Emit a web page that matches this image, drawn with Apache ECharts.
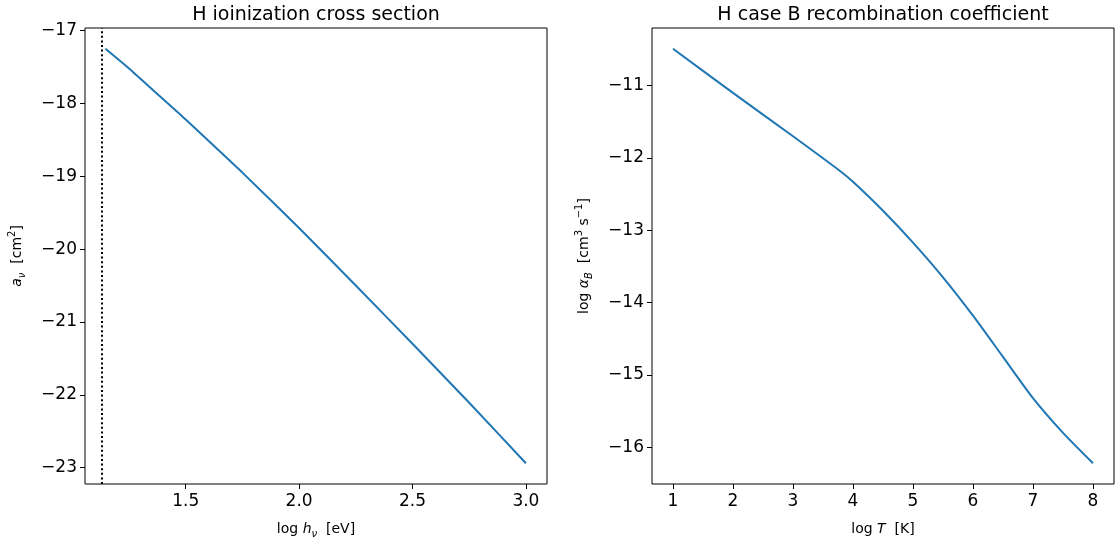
<!DOCTYPE html>
<html>
<head>
<meta charset="utf-8">
<script src="https://cdn.jsdelivr.net/npm/echarts@6/dist/echarts.min.js"></script>
<style>
    html, body { margin: 0; padding: 0; background: #fff; }
    #chart { width: 1120px; height: 548px; }
</style>
</head>
<body>
<div id="chart"></div>
<script>
// Panel izquierdo: sección eficaz de fotoionización del H
const logEnergy = [1.146, 1.25, 1.375, 1.5, 1.75, 2.0, 2.25, 2.5, 2.75, 3.0];
const logCrossSection = [-17.25, -17.52, -17.87, -18.22, -18.95, -19.71, -20.50, -21.30, -22.11, -22.94];
const thresholdLogE = 1.1335; // 13.6 eV
const energyTicks = [1.5, 2.0, 2.5, 3.0];
const crossTicks = [-23, -22, -21, -20, -19, -18, -17];

// Panel derecho: coeficiente de recombinación caso B
const logTemp = [1, 2, 3, 3.8, 4, 4.5, 5, 5.5, 6, 6.5, 7, 7.5, 8];
const logAlphaB = [-10.49, -11.10, -11.70, -12.19, -12.33, -12.73, -13.17, -13.65, -14.18, -14.75, -15.32, -15.80, -16.22];
const tempTicks = [1, 2, 3, 4, 5, 6, 7, 8];
const alphaTicks = [-16, -15, -14, -13, -12, -11];

const font = 'DejaVu Sans';
const lineColor = '#1f77b4';

// Etiquetas con signo menos tipográfico
function minusLabel(v) {
    return (v < 0 ? '\u2212' : '') + Math.abs(v);
}

const nameRich = {
    n: { fontFamily: font, fontSize: 14, color: '#000', lineHeight: 20 },
    i: { fontFamily: font, fontSize: 14, fontStyle: 'italic', color: '#000', lineHeight: 20 },
    isub: { fontFamily: font, fontSize: 10, fontStyle: 'italic', color: '#000', lineHeight: 20, verticalAlign: 'bottom' },
    sup: { fontFamily: font, fontSize: 10, color: '#000', lineHeight: 20, verticalAlign: 'top' }
};

function xAxisCfg(gridIndex, min, max, ticks, name, fmt) {
    return {
        type: 'value',
        gridIndex: gridIndex,
        min: min,
        max: max,
        name: name,
        nameLocation: 'middle',
        nameGap: 35,
        nameTextStyle: { rich: nameRich },
        axisLine: { show: false },
        axisTick: { show: true, length: 5, customValues: ticks, lineStyle: { color: '#000', width: 1 } },
        axisLabel: { customValues: ticks, color: '#000', fontFamily: font, fontSize: 17, margin: 9, formatter: fmt },
        splitLine: { show: false }
    };
}

function yAxisCfg(gridIndex, min, max, ticks, name) {
    return {
        type: 'value',
        gridIndex: gridIndex,
        min: min,
        max: max,
        name: name,
        nameLocation: 'middle',
        nameGap: 58,
        nameTextStyle: { rich: nameRich },
        axisLine: { show: false },
        axisTick: { show: true, length: 5, customValues: ticks, lineStyle: { color: '#000', width: 1 } },
        axisLabel: { customValues: ticks, color: '#000', fontFamily: font, fontSize: 17, margin: 8, formatter: minusLabel },
        splitLine: { show: false }
    };
}

const myChart = echarts.init(document.getElementById('chart'), null, { renderer: 'canvas' });

const option = {
    backgroundColor: '#fff',
    animation: false,
    title: [
        {
            text: 'H ioinization cross section',
            left: 316, top: 6, textAlign: 'center', padding: 0,
            textStyle: { fontFamily: font, fontSize: 19, fontWeight: 'normal', color: '#000' }
        },
        {
            text: 'H case B recombination coefficient',
            left: 883, top: 6, textAlign: 'center', padding: 0,
            textStyle: { fontFamily: font, fontSize: 19, fontWeight: 'normal', color: '#000' }
        }
    ],
    grid: [
        { left: 85, top: 28, width: 462, height: 456, show: true, borderColor: '#000', borderWidth: 1, backgroundColor: 'transparent' },
        { left: 652, top: 28, width: 462, height: 456, show: true, borderColor: '#000', borderWidth: 1, backgroundColor: 'transparent' }
    ],
    xAxis: [
        xAxisCfg(0, 1.056, 3.093, energyTicks, '{n|log }{i|h}{isub|ν}{n|  [eV]}', v => v.toFixed(1)),
        xAxisCfg(1, 0.65, 8.35, tempTicks, '{n|log }{i|T}{n|  [K]}', v => String(v))
    ],
    yAxis: [
        yAxisCfg(0, -23.225, -16.965, crossTicks, '{i|a}{isub|ν}{n|  [cm}{sup|2}{n|]}'),
        yAxisCfg(1, -16.507, -10.203, alphaTicks, '{n|log }{i|α}{isub|B}{n|  [cm}{sup|3}{n| s}{sup|\u22121}{n|]}')
    ],
    series: [
        {
            type: 'line',
            xAxisIndex: 0,
            yAxisIndex: 0,
            data: logEnergy.map((x, i) => [x, logCrossSection[i]]),
            smooth: 0.2,
            symbol: 'none',
            lineStyle: { color: lineColor, width: 2 },
            markLine: {
                silent: true,
                symbol: ['none', 'none'],
                label: { show: false },
                lineStyle: { color: '#000', width: 2, type: [2, 2.6] },
                data: [{ xAxis: thresholdLogE }]
            }
        },
        {
            type: 'line',
            xAxisIndex: 1,
            yAxisIndex: 1,
            data: logTemp.map((x, i) => [x, logAlphaB[i]]),
            smooth: 0.2,
            symbol: 'none',
            lineStyle: { color: lineColor, width: 2 }
        }
    ]
};

myChart.setOption(option);

window.addEventListener('resize', function() {
    myChart.resize();
});
</script>
</body>
</html>
